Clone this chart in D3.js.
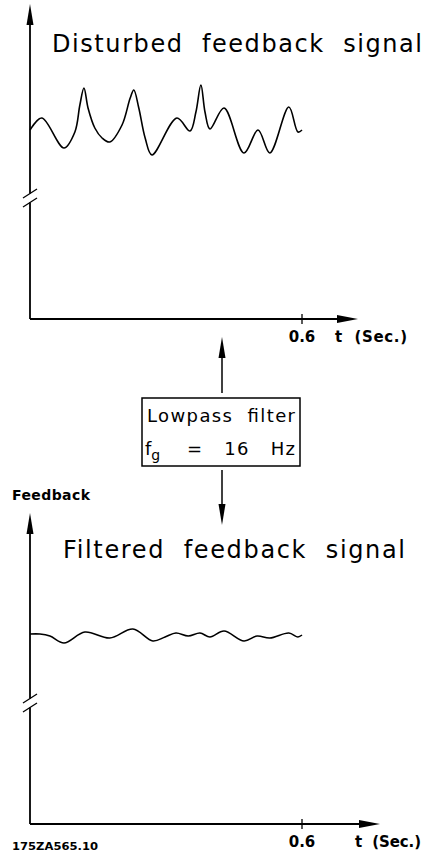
<!DOCTYPE html>
<html>
<head>
<meta charset="utf-8">
<script src="https://cdn.jsdelivr.net/npm/d3@7"></script>
<style>
  body { margin: 0; background: #fff; }
  text { font-family: "DejaVu Sans", sans-serif; fill: #000; }
</style>
</head>
<body>
<div id="chart"></div>
<script>
// time axis (seconds) and feedback level (arbitrary units)
const tDisturbed = [0, 0.026, 0.075, 0.099, 0.110, 0.119, 0.128, 0.143, 0.159, 0.176, 0.203, 0.221, 0.229, 0.240, 0.254, 0.269, 0.324, 0.353, 0.366, 0.377, 0.386, 0.397, 0.428, 0.472, 0.503, 0.529, 0.571, 0.591, 0.600]
const vDisturbed = [18.9, 20.1, 17.1, 18.7, 21.4, 23.1, 21.1, 19.1, 18.1, 17.7, 19.4, 22.1, 22.9, 21.1, 18.1, 16.4, 20.1, 18.8, 20.7, 23.4, 20.7, 19.0, 21.1, 16.6, 18.9, 16.6, 21.2, 18.7, 18.9]

const tFiltered = [0, 0.022, 0.044, 0.075, 0.121, 0.176, 0.227, 0.271, 0.298, 0.322, 0.349, 0.375, 0.397, 0.428, 0.472, 0.501, 0.529, 0.571, 0.591, 0.600]
const vFiltered = [19.0, 19.0, 18.8, 18.1, 19.2, 18.6, 19.5, 18.3, 18.7, 19.1, 18.8, 19.1, 18.7, 19.3, 18.3, 18.8, 18.6, 19.1, 18.7, 18.9]

const xTicks = [0.6]
const xTickLabels = ["0.6"]

const width = 432
const height = 852

const svg = d3.select("#chart")
    .append("svg")
    .attr("width", width)
    .attr("height", height)

const layer_top = svg.append("g")
const layer_mid = svg.append("g")
const layer_bot = svg.append("g")

function arrowHead(g, x, y, dir, len, half){
    // dir: "up", "down", "right"
    let pts
    if (dir === "up") pts = [[x, y], [x-half, y+len], [x+half, y+len]]
    if (dir === "down") pts = [[x, y], [x-half, y-len], [x+half, y-len]]
    if (dir === "right") pts = [[x, y], [x-len, y-half], [x-len, y+half]]
    g.append("path")
        .attr("d", "M" + pts.join("L") + "Z")
        .attr("fill", "#000")
}

function panel(g, opt){
    const x = d3.scaleLinear().domain([0, 0.6]).range([30, 302])
    const y = d3.scaleLinear().domain([0, opt.vmax]).range([opt.y0, opt.y0 - opt.vmax*10])

    // y axis with break
    g.append("line")
        .attr("x1", 30).attr("x2", 30)
        .attr("y1", opt.arrowTip + 10).attr("y2", opt.brk - 4.5)
        .attr("stroke", "#000").attr("stroke-width", 1.8)
    g.append("line")
        .attr("x1", 30).attr("x2", 30)
        .attr("y1", opt.brk + 4.5).attr("y2", opt.y0)
        .attr("stroke", "#000").attr("stroke-width", 1.8)
    arrowHead(g, 30, opt.arrowTip, "up", 21, 3.5)
    ;[-4.5, 4.5].forEach(o => {
        g.append("line")
            .attr("x1", 23).attr("y1", opt.brk + o + 4.5)
            .attr("x2", 37).attr("y2", opt.brk + o - 4.5)
            .attr("stroke", "#000").attr("stroke-width", 1.3)
    })

    // x axis
    g.append("line")
        .attr("x1", 30).attr("x2", opt.xTip - 10)
        .attr("y1", opt.y0).attr("y2", opt.y0)
        .attr("stroke", "#000").attr("stroke-width", 1.8)
    arrowHead(g, opt.xTip, opt.y0, "right", 21, 4)

    g.selectAll(".tick")
        .data(xTicks)
        .enter()
        .append("line")
        .attr("x1", d => x(d)).attr("x2", d => x(d))
        .attr("y1", opt.y0 - 5).attr("y2", opt.y0 + 5)
        .attr("stroke", "#000").attr("stroke-width", 1.3)
    g.selectAll(".ticklabel")
        .data(xTicks)
        .enter()
        .append("text")
        .attr("x", d => x(d))
        .attr("y", opt.y0 + 23)
        .attr("text-anchor", "middle")
        .style("font-size", "15px")
        .style("font-weight", "bold")
        .text((d, i) => xTickLabels[i])
    g.append("text")
        .attr("x", opt.tX)
        .attr("y", opt.y0 + 23)
        .attr("textLength", opt.tLen)
        .attr("lengthAdjust", "spacing")
        .style("font-size", "15px")
        .style("font-weight", "bold")
        .style("white-space", "pre")
        .text("t  (Sec.)")

    // title
    g.append("text")
        .attr("x", opt.titleX)
        .attr("y", opt.titleY)
        .attr("textLength", opt.titleLen)
        .attr("lengthAdjust", "spacing")
        .style("font-size", "24px")
        .style("white-space", "pre")
        .text(opt.title)

    // signal
    const line = d3.line()
        .x(d => x(d[0]))
        .y(d => y(d[1]))
        .curve(d3.curveCatmullRom.alpha(0.5))
    g.append("path")
        .datum(d3.zip(opt.t, opt.v))
        .attr("fill", "none")
        .attr("stroke", "#000")
        .attr("stroke-width", 1.6)
        .attr("d", line)
}

panel(layer_top, {
    y0: 319, vmax: 31.4, arrowTip: 4, brk: 198, xTip: 358,
    tX: 335, tLen: 72,
    title: "Disturbed  feedback  signal", titleX: 52, titleY: 52, titleLen: 370,
    t: tDisturbed, v: vDisturbed
})

panel(layer_bot, {
    y0: 824, vmax: 31.0, arrowTip: 513, brk: 703, xTip: 380,
    tX: 355, tLen: 66,
    title: "Filtered  feedback  signal", titleX: 63, titleY: 558, titleLen: 342,
    t: tFiltered, v: vFiltered
})

layer_bot.append("text")
    .attr("x", 12).attr("y", 500)
    .attr("textLength", 78)
    .attr("lengthAdjust", "spacing")
    .style("font-size", "14px")
    .style("font-weight", "bold")
    .text("Feedback")

layer_bot.append("text")
    .attr("x", 12).attr("y", 850)
    .attr("textLength", 86)
    .attr("lengthAdjust", "spacingAndGlyphs")
    .style("font-size", "11px")
    .style("font-weight", "bold")
    .text("175ZA565.10")

// filter box with arrows
layer_mid.append("line")
    .attr("x1", 222).attr("x2", 222).attr("y1", 350).attr("y2", 393)
    .attr("stroke", "#000").attr("stroke-width", 1.5)
arrowHead(layer_mid, 222, 337, "up", 21, 3.5)
layer_mid.append("line")
    .attr("x1", 222).attr("x2", 222).attr("y1", 470).attr("y2", 512)
    .attr("stroke", "#000").attr("stroke-width", 1.5)
arrowHead(layer_mid, 222, 525, "down", 21, 3.5)

layer_mid.append("rect")
    .attr("x", 142).attr("y", 398)
    .attr("width", 158).attr("height", 68)
    .attr("fill", "none")
    .attr("stroke", "#000").attr("stroke-width", 1.5)

layer_mid.append("text")
    .attr("x", 147).attr("y", 422)
    .attr("textLength", 148)
    .attr("lengthAdjust", "spacing")
    .style("font-size", "18px")
    .style("white-space", "pre")
    .text("Lowpass  filter")

const fg = layer_mid.append("text")
    .attr("x", 145).attr("y", 455)
    .style("font-size", "18px")
fg.append("tspan").text("f")
fg.append("tspan").attr("dy", 5).style("font-size", "14px").text("g")
layer_mid.append("text")
    .attr("x", 187).attr("y", 455)
    .attr("textLength", 108)
    .attr("lengthAdjust", "spacing")
    .style("font-size", "18px")
    .style("white-space", "pre")
    .text("=   16   Hz")
</script>
</body>
</html>
